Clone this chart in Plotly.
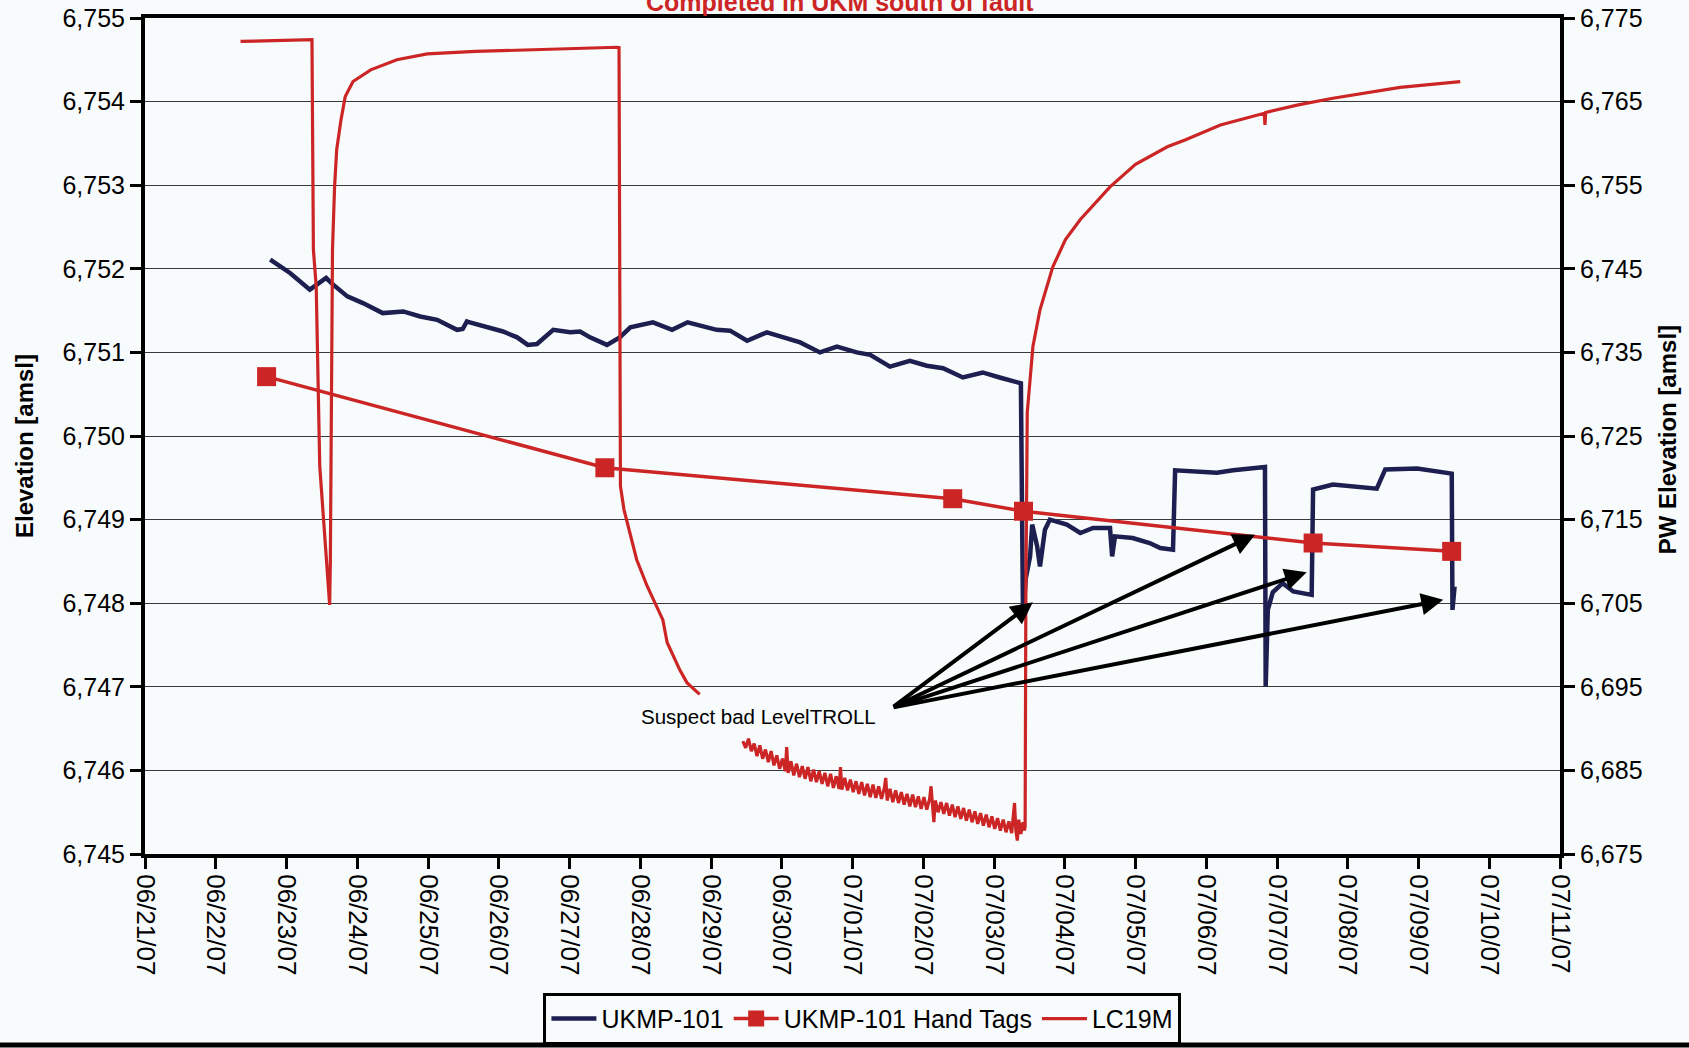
import pandas as pd
import plotly.graph_objects as go

BASE = pd.Timestamp("2007-06-21")

# ---- UKMP-101 (left axis), x = days since 06/21/07 ----
ukmp_day = [1.77, 2.05, 2.33, 2.47, 2.56, 2.66, 2.86, 3.08, 3.36, 3.65, 3.89, 4.13, 4.41, 4.49,
            4.55, 4.59, 5.06, 5.26, 5.41, 5.54, 5.77, 6.01, 6.15, 6.29, 6.53, 6.71, 6.86, 7.18,
            7.45, 7.67, 8.08, 8.27, 8.51, 8.79, 9.12, 9.26, 9.54, 9.78, 10.06, 10.25, 10.53,
            10.81, 11.05, 11.28, 11.56, 11.84, 12.08, 12.38, 12.41, 12.45, 12.51, 12.54, 12.61,
            12.65, 12.72, 12.79, 13.03, 13.22, 13.40, 13.64, 13.67, 13.71, 13.96, 14.20, 14.35,
            14.53, 14.56, 15.15, 15.38, 15.83, 15.84, 15.87, 15.94, 16.08, 16.23, 16.49, 16.51,
            16.79, 17.41, 17.53, 17.98, 18.47, 18.48, 18.51]
ukmp_val = [6752.11, 6751.95, 6751.75, 6751.83, 6751.89, 6751.81, 6751.67, 6751.59, 6751.47,
            6751.49, 6751.43, 6751.39, 6751.27, 6751.28, 6751.37, 6751.36, 6751.25, 6751.18,
            6751.09, 6751.10, 6751.27, 6751.24, 6751.25, 6751.18, 6751.09, 6751.18, 6751.30,
            6751.36, 6751.27, 6751.36, 6751.27, 6751.26, 6751.14, 6751.24, 6751.15, 6751.12,
            6751.00, 6751.07, 6751.00, 6750.97, 6750.83, 6750.90, 6750.84, 6750.81, 6750.70,
            6750.76, 6750.70, 6750.63, 6747.84, 6748.30, 6748.56, 6748.94, 6748.68, 6748.44,
            6748.88, 6749.00, 6748.94, 6748.84, 6748.90, 6748.90, 6748.56, 6748.80, 6748.78,
            6748.72, 6748.66, 6748.64, 6749.59, 6749.56, 6749.59, 6749.63, 6747.00, 6747.92,
            6748.13, 6748.24, 6748.14, 6748.10, 6749.36, 6749.42, 6749.37, 6749.60, 6749.61,
            6749.55, 6747.92, 6748.20]

# ---- UKMP-101 Hand Tags (left axis) ----
tag_time = ["2007-06-22 17:15", "2007-06-27 12:00", "2007-07-02 10:00",
            "2007-07-03 10:00", "2007-07-07 12:15", "2007-07-09 11:15"]
tag_val = [6750.71, 6749.62, 6749.25, 6749.10, 6748.72, 6748.62]

# ---- LC19M (right axis); None marks the data gap ----
lc_day = [1.35, 2.36, 2.38, 2.42, 2.47, 2.52, 2.56, 2.61, 2.62, 2.63, 2.65, 2.68, 2.71, 2.77,
          2.83, 2.94, 3.19, 3.56, 3.99, 4.67, 5.77, 6.67, 6.70, 6.71, 6.72, 6.77, 6.86, 6.95,
          7.10, 7.18, 7.32, 7.38, 7.56, 7.66, 7.84, 7.90,
          8.45, 8.49, 8.53, 8.57, 8.61, 8.65, 8.69, 8.73, 8.77, 8.81, 8.85, 8.89, 8.93, 8.97,
          9.01, 9.05, 9.07, 9.09, 9.13, 9.17, 9.21, 9.25, 9.29, 9.33, 9.37, 9.41, 9.45, 9.49,
          9.53, 9.57, 9.61, 9.65, 9.69, 9.73, 9.77, 9.81, 9.83, 9.85, 9.89, 9.93, 9.97, 10.01,
          10.05, 10.09, 10.13, 10.17, 10.21, 10.25, 10.29, 10.33, 10.37, 10.41, 10.45, 10.47,
          10.49, 10.53, 10.57, 10.61, 10.65, 10.69, 10.73, 10.77, 10.81, 10.85, 10.89, 10.93,
          10.97, 11.01, 11.05, 11.09, 11.11, 11.13, 11.15, 11.17, 11.21, 11.25, 11.29, 11.33,
          11.37, 11.41, 11.45, 11.49, 11.53, 11.57, 11.61, 11.65, 11.69, 11.73, 11.77, 11.81,
          11.85, 11.89, 11.93, 11.97, 12.01, 12.05, 12.09, 12.13, 12.17, 12.21, 12.25, 12.29,
          12.31, 12.33, 12.35, 12.38, 12.41, 12.43,
          12.44, 12.45, 12.46, 12.47, 12.55, 12.65, 12.83, 13.01, 13.22, 13.50, 13.64, 14.00,
          14.45, 14.70, 15.20, 15.82, 15.83, 15.84, 16.30, 16.79, 17.74, 18.59]
lc_val = [6772.2, 6772.4, 6747.3, 6742.9, 6721.4, 6715.0, 6710.0, 6704.8, 6710.2, 6729.3,
          6747.3, 6754.9, 6759.3, 6762.8, 6765.6, 6767.4, 6768.8, 6770.0, 6770.7, 6771.0,
          6771.3, 6771.5, 6771.45, 6753.3, 6719.0, 6716.2, 6713.0, 6710.2, 6707.0, 6705.5,
          6703.0, 6700.3, 6697.0, 6695.5, 6694.1, None,
          6688.5, 6687.7, 6688.8, 6687.3, 6688.2, 6686.7, 6688.0, 6686.4, 6687.5, 6686.0,
          6687.3, 6685.6, 6686.8, 6685.2, 6686.4, 6684.9, 6687.8, 6684.7, 6686.1, 6684.4,
          6685.8, 6684.2, 6685.5, 6684.0, 6685.4, 6683.7, 6685.1, 6683.6, 6684.9, 6683.4,
          6684.7, 6683.1, 6684.6, 6682.9, 6684.3, 6682.8, 6685.4, 6682.7, 6684.1, 6682.6,
          6683.9, 6682.4, 6683.7, 6682.2, 6683.6, 6682.0, 6683.4, 6681.8, 6683.3, 6681.7,
          6683.1, 6681.6, 6682.9, 6684.1, 6681.4, 6682.8, 6681.2, 6682.6, 6681.1, 6682.4,
          6680.9, 6682.2, 6680.7, 6682.1, 6680.6, 6681.9, 6680.4, 6681.8, 6680.3, 6681.6,
          6683.1, 6680.1, 6678.8, 6681.4, 6680.0, 6681.2, 6679.8, 6681.1, 6679.6, 6680.9,
          6679.4, 6680.7, 6679.2, 6680.5, 6679.0, 6680.3, 6678.8, 6680.1, 6678.6, 6679.9,
          6678.4, 6679.7, 6678.2, 6679.5, 6678.0, 6679.3, 6677.8, 6679.1, 6677.6, 6678.9,
          6677.5, 6681.1, 6677.7, 6676.6, 6679.1, 6677.4, 6678.8, 6677.8,
          6678.3, 6705.4, 6719.8, 6727.8, 6735.7, 6740.1, 6745.2, 6748.5, 6750.9, 6753.5,
          6754.8, 6757.5, 6759.6, 6760.4, 6762.2, 6763.6, 6762.2, 6763.7, 6764.6, 6765.4,
          6766.7, 6767.4]

# ---- axes ----
left_ticks = [6745, 6746, 6747, 6748, 6749, 6750, 6751, 6752, 6753, 6754, 6755]
right_ticks = [6675, 6685, 6695, 6705, 6715, 6725, 6735, 6745, 6755, 6765, 6775]
x_start, x_end = "2007-06-21", "2007-07-11"

NAVY = "#1c1f4f"
RED = "#cc2525"
BG = "#f8fbfc"
FONT = "Liberation Sans, Arial, sans-serif"
NARROW = "Liberation Sans Narrow, Liberation Sans, Arial, sans-serif"


def to_time(days):
    return [None if d is None else BASE + pd.to_timedelta(d, unit="D") for d in days]


fig = go.Figure()
fig.add_trace(go.Scatter(x=to_time(ukmp_day), y=ukmp_val, name="UKMP-101", mode="lines",
                         line=dict(color=NAVY, width=4.5), yaxis="y"))
fig.add_trace(go.Scatter(x=pd.to_datetime(tag_time), y=tag_val, name="UKMP-101 Hand Tags",
                         mode="lines+markers", line=dict(color=RED, width=3.5),
                         marker=dict(symbol="square", size=19, color=RED), yaxis="y"))
fig.add_trace(go.Scatter(x=to_time(lc_day), y=lc_val, name="LC19M", mode="lines",
                         line=dict(color=RED, width=3.2), connectgaps=False, yaxis="y2"))

# arrows "Suspect bad LevelTROLL" (tips in data coords, common tail)
tail_x = BASE + pd.to_timedelta(10.56, unit="D")
tail_y = 6746.75
tips = [(12.55, 6748.01), (15.69, 6748.82), (16.42, 6748.37), (18.35, 6748.04)]
annotations = []
for d, v in tips:
    annotations.append(dict(x=BASE + pd.to_timedelta(d, unit="D"), y=v, xref="x", yref="y",
                            ax=tail_x, ay=tail_y, axref="x", ayref="y", text="",
                            showarrow=True, arrowhead=2, arrowsize=1.1, arrowwidth=4,
                            arrowcolor="black", standoff=0))
annotations.append(dict(x=BASE + pd.to_timedelta(10.36, unit="D"), y=6746.65, xref="x", yref="y",
                        text="Suspect bad LevelTROLL", showarrow=False, xanchor="right",
                        yanchor="middle", font=dict(family=FONT, size=20.5, color="black")))
annotations.append(dict(x=0.491, y=1.0195, xref="paper", yref="paper",
                        text="<b>Completed in UKM south of fault</b>", showarrow=False,
                        xanchor="center", yanchor="middle",
                        font=dict(family=NARROW, size=25, color=RED)))
annotations.append(dict(x=-0.0855, y=0.488, xref="paper", yref="paper",
                        text="<b>Elevation [amsl]</b>", showarrow=False, textangle=-90,
                        xanchor="center", yanchor="middle",
                        font=dict(family=NARROW, size=24, color="black")))
annotations.append(dict(x=1.0756, y=0.496, xref="paper", yref="paper",
                        text="<b>PW Elevation [amsl]</b>", showarrow=False, textangle=-90,
                        xanchor="center", yanchor="middle",
                        font=dict(family=NARROW, size=24, color="black")))

fig.update_layout(
    width=1689, height=1048,
    margin=dict(l=145, r=129, t=18, b=194, autoexpand=False),
    paper_bgcolor=BG, plot_bgcolor=BG,
    showlegend=True,
    legend=dict(orientation="h", x=0.507, y=-0.166, xanchor="center", yanchor="top",
                bordercolor="black", borderwidth=3, bgcolor=BG,
                font=dict(family=FONT, size=25, color="black"),
                itemwidth=45, tracegroupgap=0),
    xaxis=dict(type="date", range=[x_start, x_end], dtick=86400000, tick0=x_start,
               tickformat="%m/%d/%y", tickangle=90, showgrid=False, zeroline=False,
               showline=True, linecolor="black", linewidth=4, mirror=True, automargin=False,
               ticks="outside", ticklen=11, tickwidth=2.5, tickcolor="black",
               tickfont=dict(family=FONT, size=26, color="black")),
    yaxis=dict(range=[6745, 6755], tickvals=left_ticks, tickformat=",d", automargin=False,
               showgrid=True, gridcolor="#3a3a3a", gridwidth=1.2, zeroline=False,
               showline=True, linecolor="black", linewidth=4,
               ticks="outside", ticklen=11, tickwidth=2.5, tickcolor="black",
               tickfont=dict(family=FONT, size=25, color="black")),
    yaxis2=dict(range=[6675, 6775], tickvals=right_ticks, tickformat=",d", overlaying="y",
                side="right", showgrid=False, zeroline=False, automargin=False,
                showline=True, linecolor="black", linewidth=4,
                ticks="outside", ticklen=11, tickwidth=2.5, tickcolor="black",
                tickfont=dict(family=FONT, size=25, color="black")),
    annotations=annotations,
    shapes=[dict(type="line", xref="paper", yref="paper", x0=-0.11, x1=1.10,
                 y0=-0.2285, y1=-0.2285, line=dict(color="black", width=5))],
)

fig.write_html("out.html",
               config={"displayModeBar": False},
               post_script="document.body.style.margin='0px';"
                           "document.body.style.background='" + BG + "';")
